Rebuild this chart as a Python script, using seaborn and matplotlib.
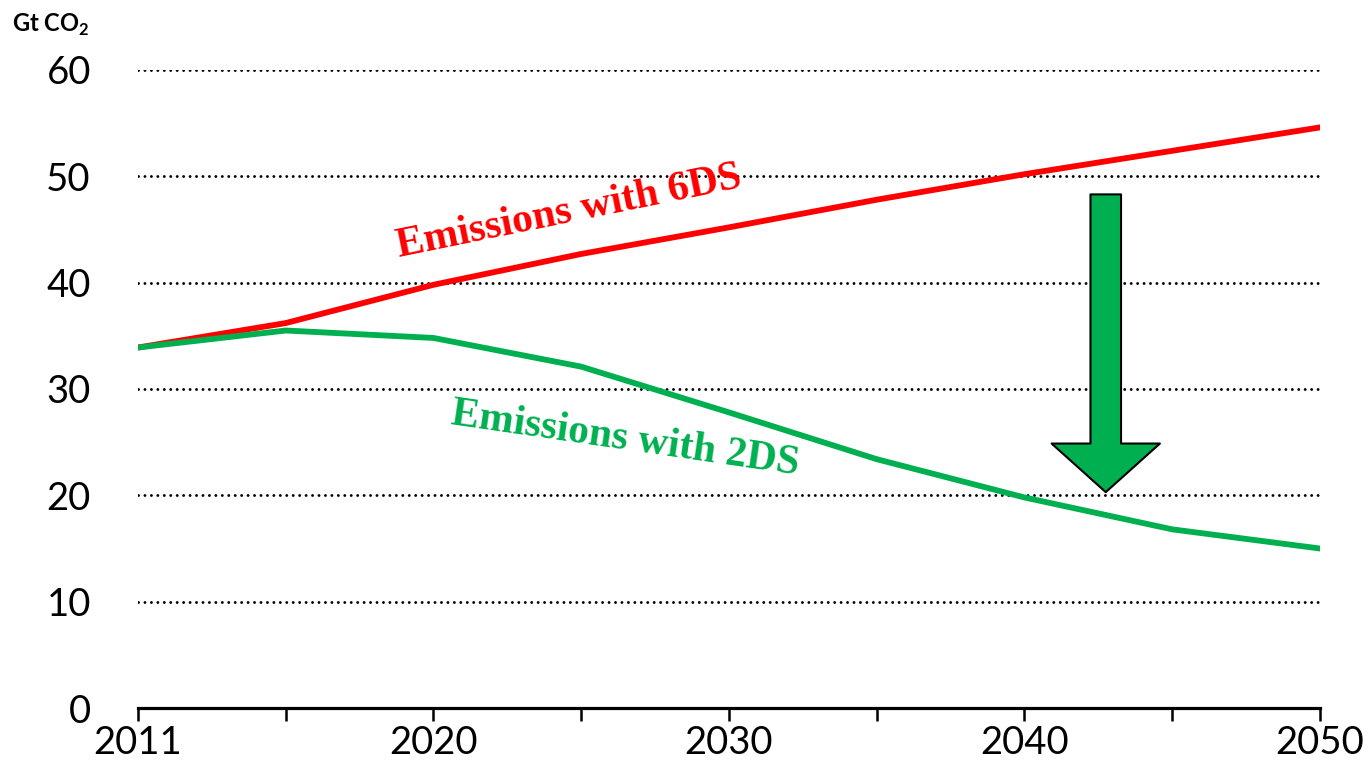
import matplotlib
matplotlib.use("Agg")
import matplotlib.pyplot as plt
import seaborn as sns
import pandas as pd
import numpy as np

# Scenario years (evenly spaced category axis) and emissions in Gt CO2
years = [2011, 2015, 2020, 2025, 2030, 2035, 2040, 2045, 2050]
emissions_6ds = [33.9, 36.2, 39.8, 42.7, 45.2, 47.8, 50.2, 52.4, 54.6]
emissions_2ds = [33.9, 35.5, 34.8, 32.1, 27.8, 23.4, 19.8, 16.8, 15.0]
tick_labels = ["2011", "", "2020", "", "2030", "", "2040", "", "2050"]
y_ticks = [0, 10, 20, 30, 40, 50, 60]

RED = "#FF0000"
GREEN = "#00B050"

sns.set_theme(style="white")
plt.rcParams["font.family"] = ["Lato", "DejaVu Sans"]
plt.rcParams["mathtext.fontset"] = "custom"
plt.rcParams["mathtext.rm"] = "Lato"
plt.rcParams["mathtext.bf"] = "Lato:bold"

pos = np.arange(len(years))
df = pd.DataFrame({
    "pos": np.concatenate([pos, pos]),
    "value": emissions_6ds + emissions_2ds,
    "scenario": ["6DS"] * len(years) + ["2DS"] * len(years),
})

fig = plt.figure(figsize=(13.69, 7.69), dpi=100)
ax = fig.add_axes([0.1008, 0.0793, 0.8634, 0.8297])

# Round-dotted horizontal gridlines
for yv in y_ticks[1:]:
    ax.axhline(yv, color="black", linestyle=(0, (0.01, 2.2)), linewidth=2.1,
               dash_capstyle="round", zorder=1)

sns.lineplot(data=df, x="pos", y="value", hue="scenario",
             palette={"6DS": RED, "2DS": GREEN}, linewidth=4.2,
             legend=False, ax=ax, zorder=3)
for line in ax.get_lines()[-2:]:
    line.set_solid_capstyle("round")

ax.set_xlim(0, len(years) - 1)
ax.set_ylim(0, 60)
ax.set_xticks(pos)
ax.set_xticklabels(tick_labels, fontsize=27.5)
ax.set_yticks(y_ticks)
ax.set_yticklabels([str(v) for v in y_ticks], fontsize=27.5)
ax.set_xlabel("")
ax.set_ylabel("")

for side in ["left", "right", "top"]:
    ax.spines[side].set_visible(False)
ax.spines["bottom"].set_color("black")
ax.spines["bottom"].set_linewidth(2.3)
ax.spines["bottom"].set_zorder(4)
ax.tick_params(axis="x", bottom=True, length=9, width=1.8, color="black",
               pad=3, labelcolor="black")
ax.tick_params(axis="y", left=False, pad=28, labelcolor="black")
ax.grid(False)

# Unit label
fig.text(0.009, 0.967, r"Gt CO$_\mathbf{2}$", fontsize=17, fontweight="bold",
         ha="left", va="center", color="black")

# Scenario labels
ax.text(2.92, 46.6, "Emissions with 6DS", color=RED, fontsize=30,
        fontweight="bold", family="Liberation Serif", rotation=11.5,
        ha="center", va="center", zorder=5)
ax.text(3.3, 25.3, "Emissions with 2DS", color=GREEN, fontsize=30,
        fontweight="bold", family="Liberation Serif", rotation=-8.3,
        ha="center", va="center", zorder=5)

# Block arrow showing the reduction
ax.annotate("", xy=(6.55, 20.3), xytext=(6.55, 48.3),
            arrowprops=dict(arrowstyle="simple,head_length=1.75,head_width=3.9,tail_width=1.1",
                            fc=GREEN, ec="black", lw=1.5, mutation_scale=20,
                            shrinkA=0, shrinkB=0),
            zorder=6)

fig.savefig("out.png", dpi=100, facecolor="white")
